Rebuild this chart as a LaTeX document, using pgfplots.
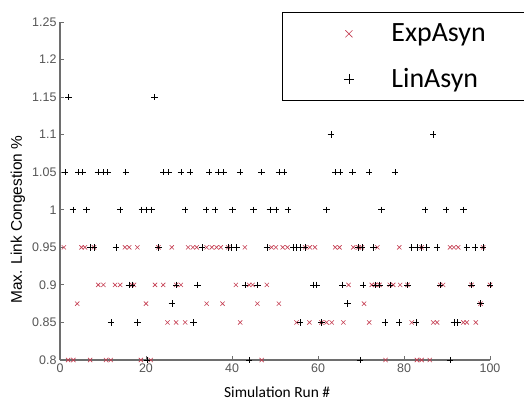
\documentclass[border=0pt]{standalone}
\usepackage{fontspec}
\setmainfont{Liberation Sans}
\newfontfamily\calfont{Carlito}
\usepackage{pgfplots}
\pgfplotsset{compat=1.18}
\definecolor{expred}{RGB}{196,60,80}
\definecolor{axgray}{RGB}{110,110,110}
\definecolor{tickgray}{RGB}{85,85,85}
\begin{document}
\begin{tikzpicture}
\begin{axis}[
    scale only axis,
    width=430bp, height=338bp,
    xmin=0, xmax=100,
    ymin=0.8, ymax=1.25,
    xtick={0,20,40,60,80,100},
    ytick={0.8,0.85,0.9,0.95,1,1.05,1.1,1.15,1.2,1.25},
    axis x line*=bottom,
    axis y line*=left,
    axis line style={axgray, line width=1.2pt},
    tick align=inside,
    major tick length=4bp,
    tick style={axgray, line width=0.8pt},
    clip=false,
    /pgf/number format/assume math mode=true,
    yticklabel style={/pgf/number format/fixed, /pgf/number format/precision=2},
    tick label style={font=\fontsize{12.5}{14}\selectfont, text=tickgray},
    xlabel={\calfont Simulation Run \#},
    ylabel={Max. Link Congestion \%},
    every axis x label/.style={at={(axis description cs:0.505,-0.095)}, anchor=center, font=\fontsize{15.5}{18}\selectfont},
    every axis y label/.style={at={(axis description cs:-0.098,0.415)}, rotate=90, anchor=center, font=\fontsize{15.5}{18}\selectfont},
    legend style={at={(rel axis cs:0.5156,1.0296)}, anchor=north west,
        draw=black, line width=1.2pt, fill=white,
        font=\calfont\fontsize{28}{32}\selectfont,
        inner xsep=0pt, inner ysep=9.5bp, row sep=21bp},
    legend cell align=left,
    legend image code/.code={\path (0bp,0bp) (106bp,0bp);
        \draw[#1,only marks,mark size=5bp] plot coordinates {(66bp,0bp)};},
]

% ExpAsyn
\addplot[only marks, mark=x, color=expred, mark size=3bp,
    mark options={line width=0.6pt}] coordinates {
    (0.9,0.95) (5.0,0.95) (5.8,0.95) (7.9,0.95) (15.1,0.95) (16.1,0.95)
    (18.0,0.95) (22.9,0.95) (26.0,0.95) (29.8,0.95) (30.9,0.95) (31.8,0.95)
    (34.1,0.95) (35.3,0.95) (36.4,0.95) (37.4,0.95) (39.1,0.95) (43.0,0.95)
    (49.2,0.95) (50.2,0.95) (51.8,0.95) (52.9,0.95) (57.0,0.95) (58.1,0.95)
    (59.3,0.95) (64.0,0.95) (65.0,0.95) (68.2,0.95) (69.4,0.95) (70.2,0.95)
    (73.8,0.95) (78.9,0.95) (84.1,0.95) (90.7,0.95) (91.6,0.95) (92.6,0.95)
    (98.4,0.95)
    (8.9,0.9) (10.1,0.9) (12.8,0.9) (14.0,0.9) (16.7,0.9) (17.2,0.9)
    (22.1,0.9) (24.0,0.9) (27.0,0.9) (28.1,0.9) (40.9,0.9) (44.0,0.9)
    (44.8,0.9) (48.1,0.9) (67.1,0.9) (72.5,0.9) (73.3,0.9) (74.3,0.9)
    (76.7,0.9) (77.5,0.9) (79.1,0.9) (80.8,0.9) (88.4,0.9) (89.1,0.9)
    (95.7,0.9) (100,0.9)
    (4.0,0.875) (20.0,0.875) (34.1,0.875) (37.8,0.875) (45.9,0.875)
    (50.9,0.875) (70.7,0.875) (97.8,0.875)
    (25.0,0.85) (27.0,0.85) (29.1,0.85) (41.9,0.85) (55.0,0.85) (58.0,0.85)
    (60.8,0.85) (62.0,0.85) (63.2,0.85) (65.9,0.85) (71.9,0.85) (81.8,0.85)
    (86.8,0.85) (87.7,0.85) (93.8,0.85) (94.6,0.85) (96.7,0.85)
    (1.9,0.8) (3.1,0.8) (7.0,0.8) (10.7,0.8) (11.8,0.8) (18.8,0.8)
    (21.1,0.8) (46.9,0.8) (75.7,0.8) (83.0,0.8) (84.1,0.8) (86.0,0.8)
};
\addlegendentry{ExpAsyn\hspace*{80bp}}

% LinAsyn
\addplot[only marks, mark=+, color=black, mark size=3.2bp,
    mark options={line width=0.6pt}] coordinates {
    (2.0,1.15) (22.0,1.15)
    (63.0,1.1) (86.8,1.1)
    (1.2,1.05) (4.3,1.05) (5.2,1.05) (8.8,1.05) (10.0,1.05) (11.1,1.05)
    (15.3,1.05) (24.0,1.05) (25.2,1.05) (28.1,1.05) (30.2,1.05) (34.7,1.05)
    (36.8,1.05) (38.0,1.05) (41.9,1.05) (46.9,1.05) (50.9,1.05) (52.1,1.05)
    (64.0,1.05) (65.1,1.05) (68.0,1.05) (71.9,1.05) (77.9,1.05)
    (3.0,1) (6.2,1) (14.0,1) (19.0,1) (20.1,1) (21.3,1) (29.1,1) (34.0,1)
    (36.0,1) (40.1,1) (45.0,1) (48.8,1) (50.2,1) (53.0,1) (62.0,1)
    (74.8,1) (84.9,1) (89.8,1) (93.8,1)
    (7.0,0.95) (7.9,0.95) (13.0,0.95) (22.9,0.95) (33.0,0.95) (39.1,0.95)
    (39.9,0.95) (41.1,0.95) (48.1,0.95) (54.3,0.95) (55.0,0.95) (55.8,0.95)
    (57.0,0.95) (69.4,0.95) (70.2,0.95) (72.9,0.95) (81.8,0.95) (83.0,0.95)
    (84.1,0.95) (85.3,0.95) (87.7,0.95) (94.6,0.95) (96.5,0.95) (98.4,0.95)
    (16.0,0.9) (16.7,0.9) (27.0,0.9) (32.0,0.9) (43.0,0.9) (45.9,0.9)
    (58.9,0.9) (59.7,0.9) (65.7,0.9) (70.5,0.9) (73.3,0.9) (74.3,0.9)
    (76.7,0.9) (80.8,0.9) (88.4,0.9) (95.7,0.9) (100,0.9)
    (26.0,0.875) (66.9,0.875) (97.8,0.875)
    (11.9,0.85) (18.0,0.85) (31.0,0.85) (55.8,0.85) (60.8,0.85) (75.6,0.85)
    (78.9,0.85) (82.8,0.85) (91.6,0.85) (92.4,0.85)
    (20.2,0.8) (44.0,0.8) (69.8,0.8) (90.7,0.8)
};
\addlegendentry{LinAsyn\hspace*{80bp}}

\end{axis}
\pgfresetboundingbox
\path[use as bounding box] (-60bp,-41bp) rectangle (464bp,360bp);
\end{tikzpicture}
\end{document}
